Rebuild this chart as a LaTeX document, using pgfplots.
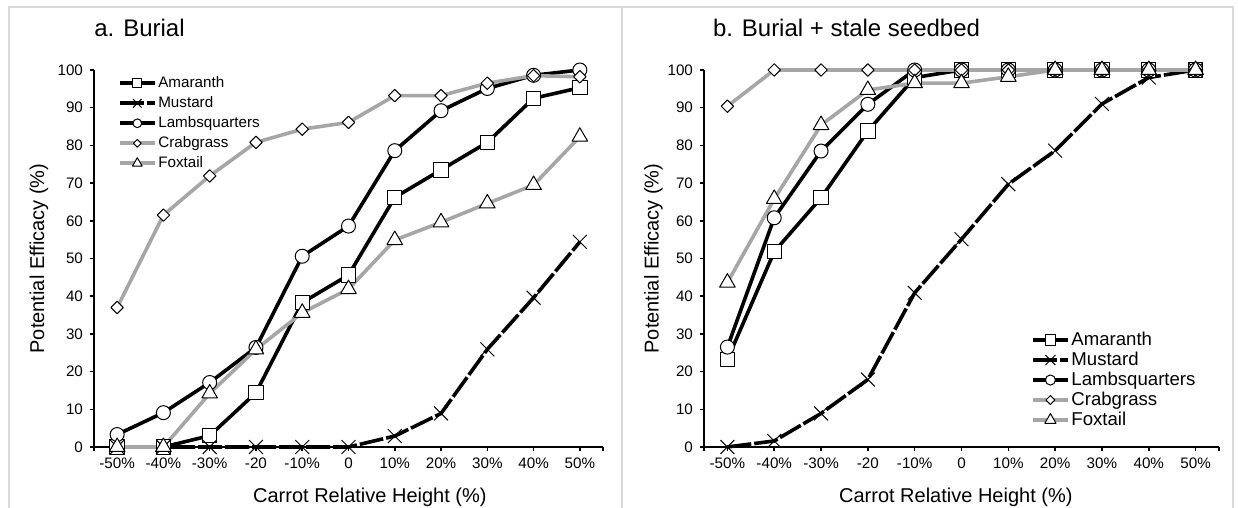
\documentclass[border=0pt]{standalone}
\usepackage{pgfplots}
\pgfplotsset{compat=1.18}
\usepackage{fontspec}
\setmainfont{Liberation Sans}

\definecolor{sgray}{RGB}{166,166,166}
\definecolor{framegray}{RGB}{217,217,217}

\pgfplotsset{
  burial/.style={
    scale only axis,
    height=188.5pt,
    xmin=-0.5, xmax=10.5, ymin=0, ymax=100,
    axis x line*=bottom, axis y line*=left,
    axis line style={black, line width=0.9pt, -},
    xtick={0,...,10},
    xticklabels={-50\%,-40\%,-30\%,-20,-10\%,0,10\%,20\%,30\%,40\%,50\%},
    extra x ticks={-0.5,10.5}, extra x tick labels={},
    ytick={0,10,...,100},
    tick align=outside, major tick length=2pt,
    tick style={black, line width=0.75pt},
    tick label style={font=\fontsize{7.6}{9}\selectfont},
    /pgf/number format/assume math mode=true,
    clip=false,
    label style={font=\fontsize{10}{12}\selectfont},
    xlabel={Carrot Relative Height (\%)},
    ylabel={Potential Efficacy (\%)},
    title style={anchor=west, inner sep=0pt, yshift=-6.5pt, font=\fontsize{12}{14}\selectfont},
    legend cell align=left,
    legend image code/.code={
      \draw[mark repeat=2, mark phase=2] plot coordinates {(0pt,0pt) (8.6pt,0pt) (17.2pt,0pt)};
    },
  },
  blk/.style={black, line width=1.8pt, line join=round,
    mark options={solid, fill=white, draw=black, line width=0.5pt}},
  gry/.style={sgray, line width=1.8pt, line join=round,
    mark options={solid, fill=white, draw=black, line width=0.5pt}},
  amaranth/.style={blk, mark=square*, mark size=3.6pt},
  mustard/.style={blk, mark=x, mark size=4.9pt, dash pattern=on 12pt off 1.5pt},
  lambs/.style={blk, mark=*, mark size=3.5pt},
  crab/.style={gry, mark=square*, mark size=2.2pt, every mark/.append style={rotate=45}},
  foxtail/.style={gry, mark=triangle*, mark size=4.5pt},
}

\begin{document}
\begin{tikzpicture}
\path[use as bounding box] (0,0) rectangle (619pt,254pt);

% panel a
\begin{axis}[burial,
  at={(47pt,30.5pt)}, anchor=south west,
  width=254.5pt,
  title={a. Burial},
  title style={at={(axis description cs:0,1.114)}},
  xlabel style={at={(axis description cs:0.542,-0.1326)}, anchor=center},
  ylabel style={at={(axis description cs:-0.108,0.5)}, anchor=center},
  legend style={draw=none, fill=none, at={(axis description cs:0.047,0.987)}, anchor=north west,
    inner sep=0pt, row sep=2pt, column sep=1pt,
    font=\fontsize{7.6}{9}\selectfont,
    nodes={inner sep=0pt, text height=6pt, text depth=2pt}},
  legend image post style={every mark/.append style={scale=0.62}},
]
\addplot[amaranth] coordinates {(0,0) (1,0) (2,3) (3,14.4) (4,38.3) (5,45.6) (6,66.2) (7,73.5) (8,80.8) (9,92.5) (10,95.3)};
\addlegendentry{Amaranth}
\addplot[mustard] coordinates {(0,0) (1,0) (2,0) (3,0) (4,0) (5,0) (6,2.9) (7,8.9) (8,25.9) (9,39.6) (10,54.4)};
\addlegendentry{Mustard}
\addplot[lambs] coordinates {(0,3.3) (1,9.1) (2,17.1) (3,26.4) (4,50.6) (5,58.6) (6,78.6) (7,89.2) (8,95.1) (9,98.6) (10,100)};
\addlegendentry{Lambsquarters}
\addplot[crab] coordinates {(0,37.0) (1,61.5) (2,71.9) (3,80.8) (4,84.3) (5,86.1) (6,93.2) (7,93.2) (8,96.5) (9,98.5) (10,98.2)};
\addlegendentry{Crabgrass}
\addplot[foxtail] coordinates {(0,0) (1,0) (2,14.2) (3,25.9) (4,35.6) (5,41.9) (6,54.9) (7,59.6) (8,64.6) (9,69.5) (10,82.3)};
\addlegendentry{Foxtail}
\end{axis}

% panel b
\begin{axis}[burial,
  at={(352pt,30.5pt)}, anchor=south west,
  width=257.5pt,
  title={b. Burial + stale seedbed},
  title style={at={(axis description cs:0.0167,1.114)}},
  xlabel style={at={(axis description cs:0.489,-0.1326)}, anchor=center},
  ylabel style={at={(axis description cs:-0.098,0.5)}, anchor=center},
  legend style={draw=none, fill=none, at={(axis description cs:0.635,0.310)}, anchor=north west,
    inner sep=0pt, row sep=0.5pt, column sep=1pt,
    font=\fontsize{9.3}{11}\selectfont,
    nodes={inner sep=0pt, text height=7.3pt, text depth=2.2pt}},
  legend image post style={every mark/.append style={scale=0.72}},
]
\addplot[amaranth] coordinates {(0,23.2) (1,51.8) (2,66.1) (3,83.8) (4,98) (5,100) (6,100) (7,100) (8,100) (9,100) (10,100)};
\addlegendentry{Amaranth}
\addplot[mustard] coordinates {(0,0) (1,1.6) (2,8.9) (3,17.9) (4,40.9) (5,55.1) (6,69.7) (7,78.6) (8,91.0) (9,98.0) (10,100)};
\addlegendentry{Mustard}
\addplot[lambs] coordinates {(0,26.5) (1,60.8) (2,78.5) (3,90.9) (4,100) (5,100) (6,100) (7,100) (8,100) (9,100) (10,100)};
\addlegendentry{Lambsquarters}
\addplot[crab] coordinates {(0,90.4) (1,100) (2,100) (3,100) (4,100) (5,100) (6,100) (7,100) (8,100) (9,100) (10,100)};
\addlegendentry{Crabgrass}
\addplot[foxtail] coordinates {(0,43.6) (1,65.8) (2,85.4) (3,94.7) (4,96.5) (5,96.5) (6,98.2) (7,100) (8,100) (9,100) (10,100)};
\addlegendentry{Foxtail}
\end{axis}

% panel frames
\draw[framegray, line width=1pt] (4.25pt,0) -- (4.25pt,250.25pt) -- (616.5pt,250.25pt) -- (616.5pt,0);
\draw[framegray, line width=1pt] (311pt,0) -- (311pt,250.25pt);
\end{tikzpicture}
\end{document}
